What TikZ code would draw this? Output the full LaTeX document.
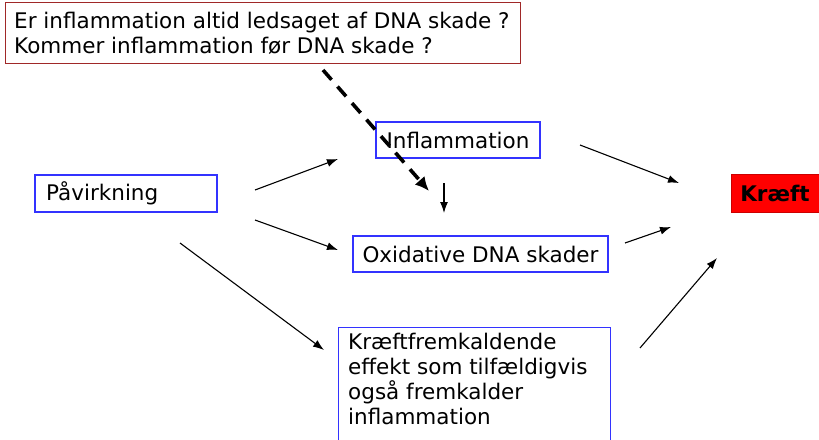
\documentclass[tikz,border=0pt]{standalone}
\usepackage{fontspec}
\setmainfont{DejaVu Sans}
\usetikzlibrary{arrows.meta}
\definecolor{boxblue}{RGB}{51,51,255}
\definecolor{boxred}{RGB}{160,40,40}
\begin{document}
\begin{tikzpicture}[x=1pt,y=-1pt,
  txt/.style={font=\fontsize{21.5}{25}\selectfont},
  bluebox/.style={draw=boxblue,line width=1.1pt,rectangle,inner sep=0pt,txt},
  conn/.style={line width=1.1pt,-{Latex[length=11pt,width=8pt]}},
  dashconn/.style={line width=3.6pt,dash pattern=on 13pt off 9pt,-{Latex[length=14pt,width=13pt]}}]
\useasboundingbox (0,0) rectangle (819,439);
\begin{scope}
\clip (0,0) rectangle (819,439);
% top question box
\node[draw=boxred,line width=1.2pt,rectangle,minimum width=515pt,minimum height=61pt,anchor=north west,inner sep=0pt] (q) at (5,2) {};
\node[txt,anchor=west,align=left,inner sep=0pt] (qt) at (14,33) {Er inflammation altid ledsaget af DNA skade ?\\Kommer inflammation før DNA skade ?};
% boxes
\node[bluebox,minimum width=164pt,minimum height=36pt] (infl) at (458,140) {Inflammation};
\node[bluebox,minimum width=182pt,minimum height=37pt] (pav) at (126,193.5) {};
\node[txt,anchor=west,inner sep=0pt] (pavt) at (46,193.5) {Påvirkning};
\node[bluebox,minimum width=255pt,minimum height=36pt] (oxi) at (480.5,254) {Oxidative DNA skader};
\node[draw=red!80!black,fill=red,line width=1pt,rectangle,minimum width=88pt,minimum height=38pt,inner sep=0pt,font=\fontsize{21.5}{25}\selectfont\bfseries] (kr) at (775,193) {Kræft};
\node[bluebox,minimum width=272pt,minimum height=125pt,anchor=north west] (kf) at (338,327) {};
\node[txt,anchor=north west,align=left,inner sep=0pt] (kft) at (348,333) {Kræftfremkaldende\\effekt som tilfældigvis\\også fremkalder\\inflammation};
\end{scope}
% connector endpoints
\coordinate (a1s) at (255,190); \coordinate (a1e) at (338,159);
\coordinate (a2s) at (255,220); \coordinate (a2e) at (338,250);
\coordinate (a3s) at (180,243); \coordinate (a3e) at (324,350);
\coordinate (a4s) at (580,145); \coordinate (a4e) at (679,183);
\coordinate (a5s) at (625,243); \coordinate (a5e) at (671,227);
\coordinate (a6s) at (640,348); \coordinate (a6e) at (717,258);
\coordinate (a7s) at (444,183); \coordinate (a7e) at (444,213);
\coordinate (ds) at (323,70); \coordinate (de) at (429,191);
\draw[conn] (a1s) -- (a1e);
\draw[conn] (a2s) -- (a2e);
\draw[conn] (a3s) -- (a3e);
\draw[conn] (a4s) -- (a4e);
\draw[conn] (a5s) -- (a5e);
\draw[conn] (a6s) -- (a6e);
\draw[conn] (a7s) -- (a7e);
\draw[dashconn] (ds) -- (de);
\end{tikzpicture}
\end{document}
